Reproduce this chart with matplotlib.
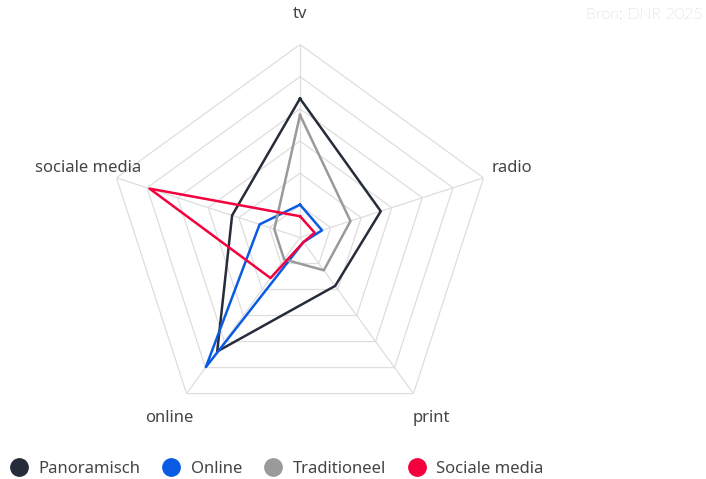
import numpy as np
import matplotlib
matplotlib.use("Agg")
import matplotlib.pyplot as plt
from matplotlib.lines import Line2D

plt.rcParams["font.family"] = ["Noto Sans", "DejaVu Sans"]

# data (fraction of the outer ring)
axes_labels = ["tv", "radio", "print", "online", "sociale media"]
series_names = ["Panoramisch", "Online", "Traditioneel", "Sociale media"]
panoramisch = [0.72, 0.44, 0.31, 0.73, 0.37]
online = [0.17, 0.12, 0.03, 0.83, 0.22]
traditioneel = [0.635, 0.275, 0.21, 0.14, 0.14]
sociale_media = [0.11, 0.08, 0.03, 0.26, 0.82]
colors = ["#262c3a", "#0a5be3", "#9a9a9a", "#f5003f"]

n = len(axes_labels)
theta = np.linspace(0, 2 * np.pi, n, endpoint=False)
theta_closed = np.append(theta, theta[0])

fig = plt.figure(figsize=(7.06, 4.79), dpi=100)
ax = fig.add_axes([0.1516, 0.1013, 0.5467, 0.8058], projection="polar")
ax.set_theta_offset(np.pi / 2)
ax.set_theta_direction(-1)
ax.set_ylim(0, 1)
ax.grid(False)
ax.spines["polar"].set_visible(False)
ax.set_xticks([])
ax.set_yticks([])
ax.patch.set_alpha(0)

# pentagon grid
for r in np.arange(1, 7) / 6:
    ax.plot(theta_closed, [r] * (n + 1), color="#dedede", lw=0.9, zorder=1)
for t in theta:
    ax.plot([t, t], [0, 1], color="#dedede", lw=0.9, zorder=1)

for vals, col in zip([panoramisch, online, traditioneel, sociale_media], colors):
    ax.plot(theta_closed, vals + vals[:1], color=col, lw=1.8, zorder=3)

# axis labels, offsets in pixels from the outer vertices
label_pos = [(0, 31, "center"), (8, 10, "left"), (-1, -24, "left"),
             (7, -24, "right"), (25, 10, "right")]
for t, lab, (dx, dy, ha) in zip(theta, axes_labels, label_pos):
    ax.annotate(lab, xy=(t, 1), xytext=(dx, dy), textcoords="offset pixels",
                ha=ha, va="center", fontsize=12, color="#444444")

handles = [Line2D([], [], marker="o", ls="", markersize=12.5, color=c)
           for c in colors]
fig.legend(handles, series_names, loc="center left", bbox_to_anchor=(0.0152, 0.021),
           ncol=4, frameon=False, fontsize=12, handlelength=1.0,
           handletextpad=0.67, columnspacing=1.35, labelcolor="#444444",
           borderaxespad=0, borderpad=0)

fig.text(0.996, 0.968, "Bron: DNR 2025", ha="right", va="center",
         fontsize=11.5, color="#a8a8a8", family="Lato", fontweight="light")

fig.savefig("out.png", dpi=100)
